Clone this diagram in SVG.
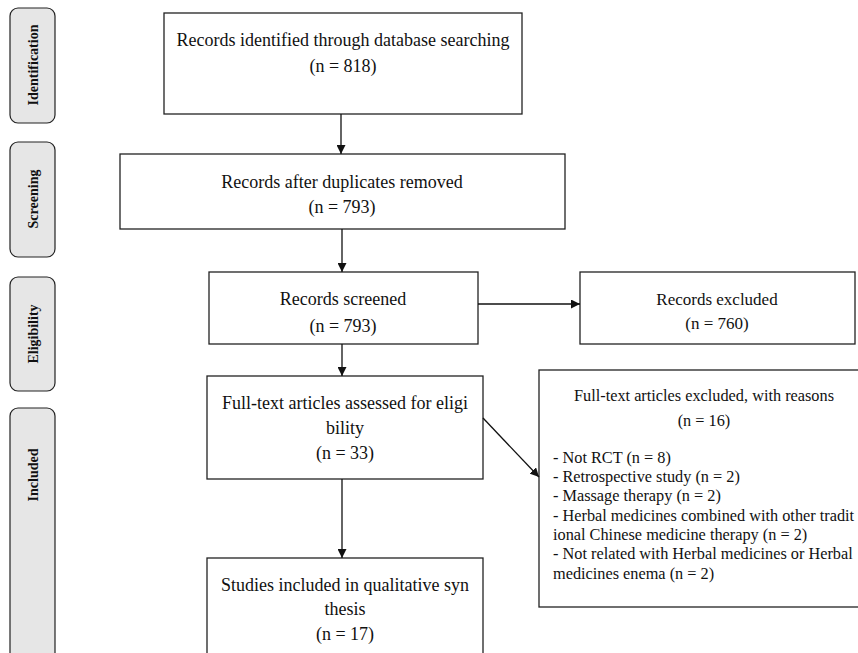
<svg xmlns="http://www.w3.org/2000/svg" width="858" height="653" viewBox="0 0 858 653">
<defs>
<style>
.box{fill:#fff;stroke:#222;stroke-width:1.3}
.side{fill:#e6e6e6;stroke:#222;stroke-width:1.2}
.t{font-family:"Liberation Serif","Times New Roman",serif;font-size:18px;fill:#111}
.m{font-size:17px}
.r{font-size:16.3px}
.c{text-anchor:middle}
.s{font-family:"Liberation Serif","Times New Roman",serif;font-size:14px;font-weight:bold;fill:#111;text-anchor:middle}
.ln{stroke:#111;stroke-width:1.3;fill:none}
</style>
<marker id="ah" viewBox="0 0 10 10" refX="10" refY="5" markerWidth="9" markerHeight="9" markerUnits="userSpaceOnUse" orient="auto">
<path d="M0,0 L10,5 L0,10 z" fill="#111"/>
</marker>
</defs>
<rect width="858" height="653" fill="#fff"/>

<g id="side-identification"><rect class="side" x="10" y="8" width="45" height="115" rx="8"/><text class="s" transform="translate(38,65) rotate(-90)">Identification</text></g>
<g id="side-screening"><rect class="side" x="10" y="142" width="45" height="115" rx="8"/><text class="s" transform="translate(38,199) rotate(-90)">Screening</text></g>
<g id="side-eligibility"><rect class="side" x="10" y="277" width="45" height="114" rx="8"/><text class="s" transform="translate(38,334) rotate(-90)">Eligibility</text></g>
<g id="side-included"><rect class="side" x="10" y="408" width="45" height="260" rx="8"/><text class="s" transform="translate(38,475) rotate(-90)">Included</text></g>

<g id="identified"><rect class="box" x="164" y="13" width="358" height="101"/>
<text class="t c" x="343" y="46">Records identified through database searching</text>
<text class="t c" x="343" y="72">(n = 818)</text></g>

<g id="duplicates"><rect class="box" x="120" y="154" width="445" height="75"/>
<text class="t c" x="342" y="188">Records after duplicates removed</text>
<text class="t c" x="342" y="213">(n = 793)</text></g>

<g id="screened"><rect class="box" x="209" y="272" width="269" height="72"/>
<text class="t c" x="343" y="305">Records screened</text>
<text class="t c" x="343" y="332">(n = 793)</text></g>

<g id="excluded"><rect class="box" x="580" y="272" width="275" height="72"/>
<text class="t m c" x="717" y="305">Records excluded</text>
<text class="t m c" x="717" y="329">(n = 760)</text></g>

<g id="fulltext"><rect class="box" x="207" y="376" width="276" height="103"/>
<text class="t c" x="345" y="409">Full-text articles assessed for eligi</text>
<text class="t c" x="345" y="434">bility</text>
<text class="t c" x="345" y="459">(n = 33)</text></g>

<g id="fulltext-excluded"><rect class="box" x="539" y="370" width="330" height="237"/>
<text class="t r c" x="704" y="401">Full-text articles excluded, with reasons</text>
<text class="t r c" x="704" y="426">(n = 16)</text>
<text class="t r" x="553" y="462.5">- Not RCT (n = 8)</text>
<text class="t r" x="553" y="482">- Retrospective study (n = 2)</text>
<text class="t r" x="553" y="501">- Massage therapy (n = 2)</text>
<text class="t r" x="553" y="520.5">- Herbal medicines combined with other tradit</text>
<text class="t r" x="553" y="540">ional Chinese medicine therapy (n = 2)</text>
<text class="t r" x="553" y="559">- Not related with Herbal medicines or Herbal</text>
<text class="t r" x="553" y="578.5">medicines enema (n = 2)</text></g>

<g id="included"><rect class="box" x="207" y="558" width="276" height="110"/>
<text class="t c" x="345" y="591">Studies included in qualitative syn</text>
<text class="t c" x="345" y="615">thesis</text>
<text class="t c" x="345" y="640">(n = 17)</text></g>

<g id="connectors">
<line class="ln" x1="341" y1="114" x2="341" y2="154" marker-end="url(#ah)"/>
<line class="ln" x1="342" y1="229" x2="342" y2="272" marker-end="url(#ah)"/>
<line class="ln" x1="478" y1="304" x2="580" y2="304" marker-end="url(#ah)"/>
<line class="ln" x1="342" y1="344" x2="342" y2="376" marker-end="url(#ah)"/>
<line class="ln" x1="483" y1="418" x2="539" y2="477" marker-end="url(#ah)"/>
<line class="ln" x1="342" y1="479" x2="342" y2="558" marker-end="url(#ah)"/>
</g>
</svg>
